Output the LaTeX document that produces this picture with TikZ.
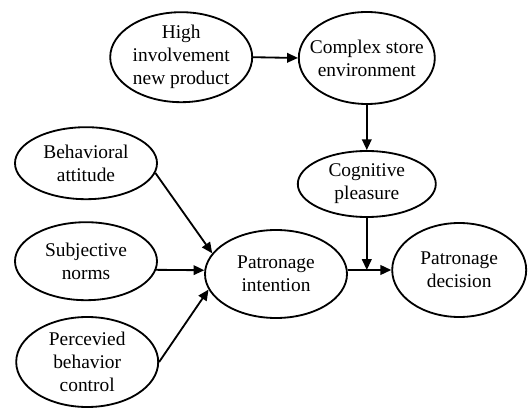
\documentclass[tikz,border=0pt]{standalone}
\usepackage{fontspec}
\setmainfont{Liberation Serif}
\usetikzlibrary{arrows.meta, shapes.geometric}

\begin{document}
\begin{tikzpicture}[
  factor/.style={draw, ellipse, line width=1.3pt, inner sep=-2cm, align=center,
    font=\fontsize{13.8}{16.4}\selectfont},
  link/.style={line width=1.3pt, -{Triangle[length=0.27cm,width=0.24cm]}}]
  \useasboundingbox (0,0) rectangle (13.2,-10.2);
  \node[factor, minimum width=3.55cm, minimum height=2.25cm] (high) at (4.53,-1.43) {High\\involvement\\new product};
  \node[factor, minimum width=3.40cm, minimum height=2.30cm] (complex) at (9.17,-1.45) {Complex store\\environment};
  \node[factor, minimum width=3.45cm, minimum height=1.65cm] (cognitive) at (9.17,-4.60) {Cognitive\\pleasure};
  \node[factor, minimum width=3.55cm, minimum height=1.80cm] (attitude) at (2.15,-4.08) {Behavioral\\attitude};
  \node[factor, minimum width=3.55cm, minimum height=1.95cm] (norms) at (2.15,-6.53) {Subjective\\norms};
  \node[factor, minimum width=3.55cm, minimum height=2.25cm] (control) at (2.18,-9.05) {Percevied\\behavior\\control};
  \node[factor, minimum width=3.55cm, minimum height=2.20cm] (intention) at (6.90,-6.85) {Patronage\\intention};
  \node[factor, minimum width=3.35cm, minimum height=2.35cm] (decision) at (11.48,-6.75) {Patronage\\decision};
  % Draw the paths
  \draw[link] (high.east) -- (complex.west);
  \draw[link] (complex.south) -- (cognitive.north);
  \draw[link] (attitude.-8) -- (intention.162);
  \draw[link] (norms.-7) -- (intention.177);
  \draw[link] (control.east) -- (intention.193);
  \draw[link] (intention.east |- decision.west) -- (decision.west);
  \draw[link] (cognitive.south) -- (cognitive.south |- decision.west);
\end{tikzpicture}
\end{document}
